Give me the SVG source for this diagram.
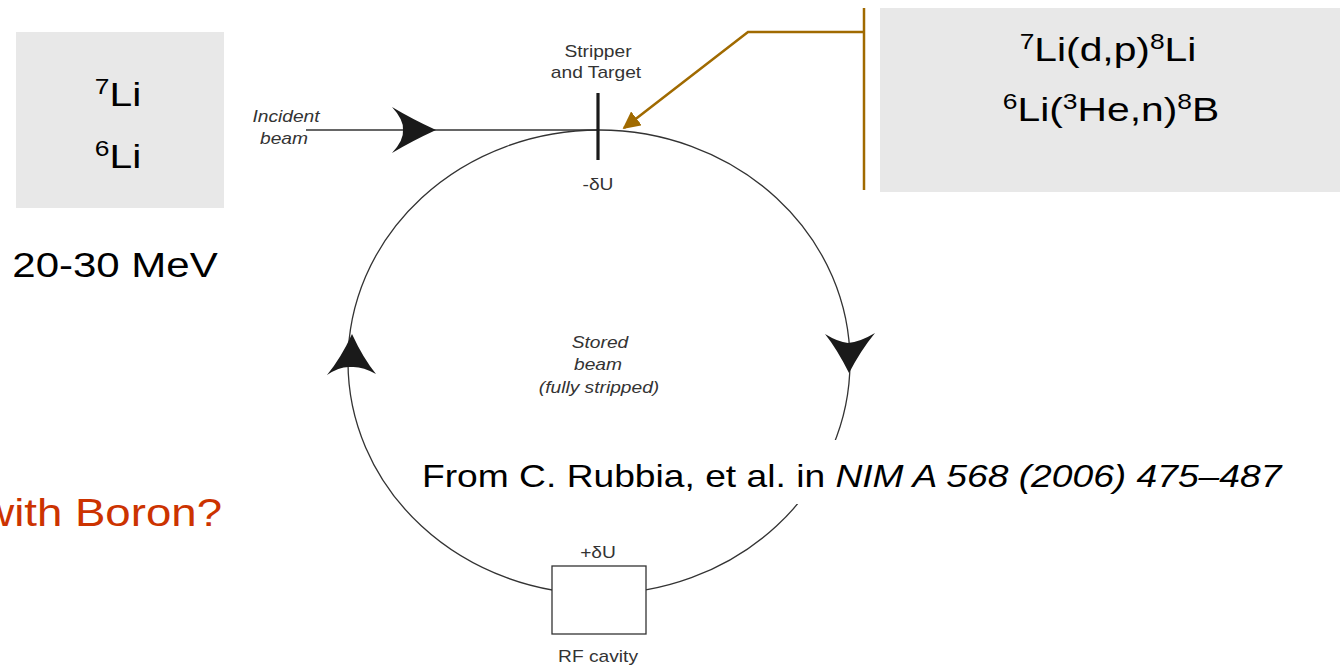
<svg xmlns="http://www.w3.org/2000/svg" width="1340" height="666" viewBox="0 0 1340 666">
<defs>
<style>
.big{font-family:"Liberation Sans",Arial,sans-serif;fill:#000}
.sm{font-family:"Liberation Sans",Arial,sans-serif;font-size:16px;fill:#333}
.it{font-style:italic}
.box{fill:#E8E8E8}
.ring{fill:none;stroke:#333;stroke-width:1.3}
.head{fill:#1a1a1a}
.brown{fill:none;stroke:#A06A00;stroke-width:2.5}
</style>
<marker id="bh" viewBox="0 0 10 10" refX="9" refY="5" markerWidth="7" markerHeight="7" markerUnits="strokeWidth" orient="auto">
<path d="M0,0 L10,5 L0,10 Z" fill="#A06A00"/>
</marker>
</defs>
<rect width="1340" height="666" fill="#fff"/>

<g id="ring">
<ellipse class="ring" cx="599" cy="362" rx="251" ry="232"/>
<line x1="306" y1="130" x2="598" y2="130" stroke="#333" stroke-width="1.3"/>
<path class="head" d="M436,130 Q412,119 392,107 Q404,120 403,130 Q404,140 392,153 Q412,141 436,130 Z"/>
<path class="head" d="M352,334 Q363,358 376,374 Q362,366 351,367 Q340,366 327,375 Q341,358 352,334 Z"/>
<path class="head" d="M849,373 Q837,349 825,334 Q838,342 848,343 Q860,342 875,333 Q861,350 849,373 Z"/>
</g>

<g id="stripper">
<line x1="598" y1="93" x2="598" y2="160" stroke="#1a1a1a" stroke-width="3.2"/>
<text class="sm" text-anchor="middle" transform="matrix(1.2 0 0 1 598 57)">Stripper</text>
<text class="sm" text-anchor="middle" transform="matrix(1.2 0 0 1 596 78)">and Target</text>
<text class="sm" text-anchor="middle" transform="matrix(1.2 0 0 1 598 190)">-δU</text>
</g>

<g id="incident">
<text class="sm it" text-anchor="middle" transform="matrix(1.2 0 0 1 286 122)">Incident</text>
<text class="sm it" text-anchor="middle" transform="matrix(1.2 0 0 1 284 144)">beam</text>
</g>

<g id="stored">
<text class="sm it" text-anchor="middle" transform="matrix(1.2 0 0 1 600 348)">Stored</text>
<text class="sm it" text-anchor="middle" transform="matrix(1.2 0 0 1 598 370)">beam</text>
<text class="sm it" text-anchor="middle" transform="matrix(1.2 0 0 1 599 393)">(fully stripped)</text>
</g>

<g id="rfcavity">
<rect x="552" y="566" width="94" height="68" fill="#fff" stroke="#333" stroke-width="1.3"/>
<text class="sm" text-anchor="middle" transform="matrix(1.2 0 0 1 598 558)">+δU</text>
<text class="sm" text-anchor="middle" transform="matrix(1.2 0 0 1 598 662)">RF cavity</text>
</g>

<g id="isotopes">
<rect class="box" x="16" y="32" width="208" height="176"/>
<text class="big" font-size="34" text-anchor="middle" transform="matrix(1.2 0 0 1 118 106)"><tspan font-size="22" dy="-12">7</tspan><tspan dy="12">Li</tspan></text>
<text class="big" font-size="34" text-anchor="middle" transform="matrix(1.2 0 0 1 118 168)"><tspan font-size="22" dy="-12">6</tspan><tspan dy="12">Li</tspan></text>
</g>

<g id="energy">
<text class="big" font-size="35" text-anchor="middle" transform="matrix(1.2 0 0 1 115 277)">20-30 MeV</text>
</g>

<g id="reactions">
<rect class="box" x="880" y="8" width="460" height="184"/>
<text class="big" font-size="34" text-anchor="middle" transform="matrix(1.2 0 0 1 1108 61)"><tspan font-size="22" dy="-12">7</tspan><tspan dy="12">Li(d,p)</tspan><tspan font-size="22" dy="-12">8</tspan><tspan dy="12">Li</tspan></text>
<text class="big" font-size="34" text-anchor="middle" transform="matrix(1.2 0 0 1 1111 121)"><tspan font-size="22" dy="-12">6</tspan><tspan dy="12">Li(</tspan><tspan font-size="22" dy="-12">3</tspan><tspan dy="12">He,n)</tspan><tspan font-size="22" dy="-12">8</tspan><tspan dy="12">B</tspan></text>
</g>

<g id="connectors">
<line class="brown" x1="864" y1="8" x2="864" y2="190"/>
<polyline class="brown" points="864,32 748,32 624,128" marker-end="url(#bh)"/>
</g>

<g id="citation">
<rect x="415" y="440" width="880" height="64" fill="#fff"/>
<text class="big" font-size="31" transform="matrix(1.2 0 0 1 422 487)">From C. Rubbia, et al. in <tspan font-style="italic">NIM A 568 (2006) 475–487</tspan></text>
</g>

<g id="question">
<text class="big" font-size="38" text-anchor="end" style="fill:#CC3300" transform="matrix(1.2 0 0 1 222 526)">with Boron?</text>
</g>
</svg>
